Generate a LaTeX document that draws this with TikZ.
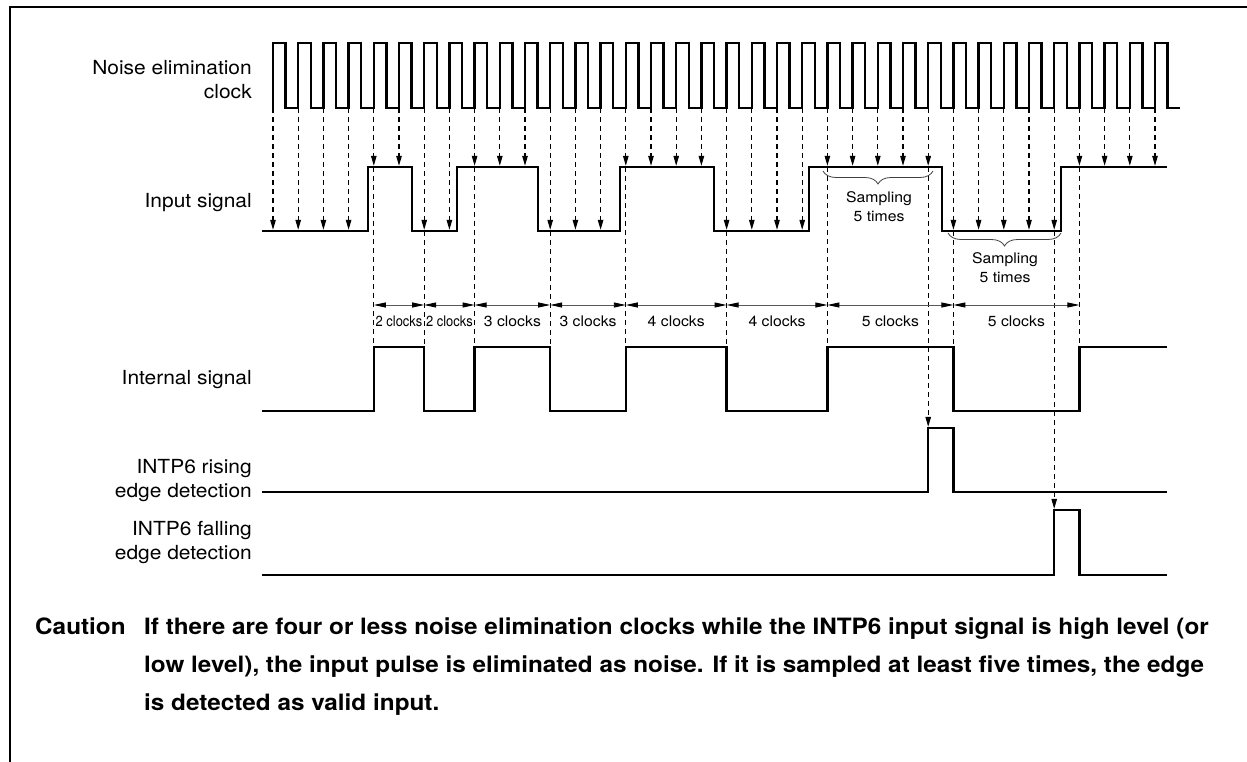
\documentclass[tikz,border=0pt]{standalone}
\usepackage{fontspec}
\setmainfont{TeX Gyre Heros}[FakeStretch=1.08]
\usetikzlibrary{arrows.meta, decorations.pathreplacing}

\begin{document}
\begin{tikzpicture}[
  x=1pt, y=-1pt,
  sig/.style={line width=2.4pt, line join=miter},
  tick/.style={dashed, dash pattern=on 5pt off 4pt, line width=1.1pt, -{Triangle[length=10pt, width=5.5pt]}},
  guide/.style={dashed, dash pattern=on 5pt off 4pt, line width=1.1pt},
  dim/.style={draw=black!65, line width=0.9pt, {Triangle[length=12pt, width=5pt, color=black]}-{Triangle[length=12pt, width=5pt, color=black]}},
  brc/.style={decorate, decoration={brace, mirror, amplitude=13pt}, line width=0.8pt, draw=black!75},
  signame/.style={font=\fontsize{19.4}{24}\selectfont, align=right, anchor=east, inner sep=0pt},
  lbl/.style={font=\fontsize{14.6}{19}\selectfont, align=center, inner sep=0pt},
  cnote/.style={font=\bfseries\fontsize{22.5}{38}\selectfont, anchor=base west, inner sep=0pt}
]
\useasboundingbox (0,0) rectangle (1247,762);
\draw[line width=2pt] (10,762) -- (10,7) -- (1247,7);

% levels
\coordinate (hi) at (0,167);
\coordinate (lo) at (0,231);
\coordinate (int) at (0,347);
\coordinate (ilo) at (0,411);
\coordinate (rise) at (0,428);
\coordinate (rlo) at (0,492);
\coordinate (fall) at (0,510);
\coordinate (flo) at (0,575);
\coordinate (dimy) at (0,305);
\foreach \k in {0,...,35}
  \coordinate (c\k) at ({273+25.2*\k},108);

% signal names
\node[signame] (nclk) at (252,80) {Noise elimination\\clock};
\node[signame] (nin) at (252,203) {Input signal};
\node[signame] (nint) at (252,380) {Internal signal};
\node[signame] (nrise) at (252,481) {INTP6 rising\\edge detection};
\node[signame] (nfall) at (252,543) {INTP6 falling\\edge detection};

% waveforms
\draw[sig] (273,108) \foreach \k in {0,...,35} { -- ++(0,-65) -- ++(12.6,0) -- ++(0,65) -- ++(12.6,0) };
\draw[sig] (262,231) -| (368,167) -| (412,231) -| (457,167) -| (538,231) -| (620,167)
  -| (714,231) -| (809,167) -| (942,231) -| (1061,167) -- (1167,167);
\draw[sig] (262,411) -| (c4 |- int) -| (c6 |- ilo) -| (c8 |- int) -| (c11 |- ilo) -| (c14 |- int)
  -| (c18 |- ilo) -| (c22 |- int) -| (c27 |- ilo) -| (c32 |- int) -- (1167,347);
\draw[sig] (262,492) -| (c26 |- rise) -| (c27 |- rlo) -- (1167,492);
\draw[sig] (262,575) -| (c31 |- fall) -| (c32 |- flo) -- (1167,575);

% sampling arrows
\foreach \k in {0,1,2,3,6,7,11,12,13,18,19,20,21,27,28,29,30,31}
  \draw[tick] (c\k) -- ([yshift=1.2pt]c\k |- lo);
\foreach \k in {4,5,8,9,10,14,15,16,17,22,23,24,25,26,32,33,34,35}
  \draw[tick] (c\k) -- ([yshift=1.2pt]c\k |- hi);
\foreach \k/\lv in {4/hi,6/lo,8/hi,11/lo,14/hi,18/lo,22/hi,27/lo,32/hi}
  \draw[guide] (c\k |- \lv) -- (c\k |- int);
\draw[tick] (c26 |- hi) -- ([yshift=1.2pt]c26 |- rise);
\draw[tick] (c31 |- lo) -- ([yshift=1.2pt]c31 |- fall);

% widths
\foreach \a/\b/\n/\s [count=\i] in {4/6/2/0.82, 6/8/2/0.82, 8/11/3/1, 11/14/3/1, 14/18/4/1, 18/22/4/1, 22/27/5/1, 27/32/5/1}
  \draw[dim] (c\a |- dimy) -- node[lbl, yshift=-16pt] (w\i) {\scalebox{\s}[1]{\n\ clocks}} (c\b |- dimy);

% sampling braces
\draw[brc] (823,171) -- (933,171);
\node[lbl] (samp1) at (879,207) {Sampling\\5 times};
\draw[brc] (948,233) -- (1061,233);
\node[lbl] (samp2) at (1005,268) {Sampling\\5 times};

% caution
\node[cnote] (caut) at (35,634) {Caution};
\node[cnote] (note1) at (144,634) {If there are four or less noise elimination clocks while the INTP6 input signal is high level (or};
\node[cnote] (note2) at (144,672) {low level), the input pulse is eliminated as noise. If it is sampled at least five times, the edge};
\node[cnote] (note3) at (144,710) {is detected as valid input.};
\end{tikzpicture}
\end{document}
